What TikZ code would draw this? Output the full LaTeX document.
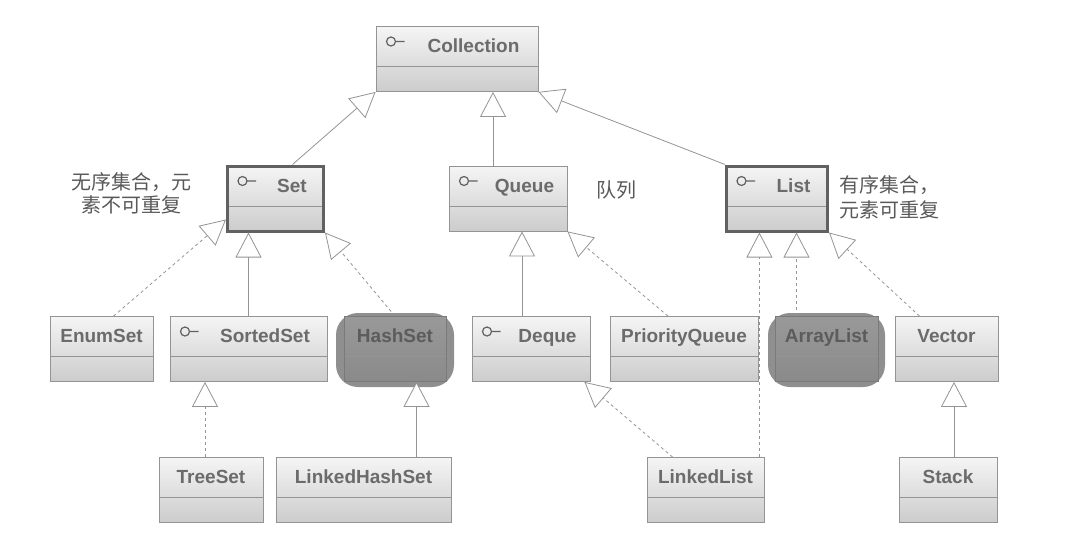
\documentclass[tikz,border=0pt]{standalone}
\usepackage{fontspec}
\newfontfamily\umlfont{Liberation Sans}
\newfontfamily\cjkfont{Noto Sans CJK SC}
\usetikzlibrary{arrows.meta}

\tikzset{
  divline/.style={draw=black!42, line width=0.8pt},
  cls/.style={draw=black!42, line width=0.8pt, top color=black!4, bottom color=black!20,
    inner sep=0pt, minimum height=65pt, text height=26pt, text depth=39pt,
    font=\umlfont\bfseries\fontsize{19pt}{22pt}\selectfont, text=black!58,
    path picture={\draw[divline]
      ([yshift=-40pt]path picture bounding box.north west) -- ([yshift=-40pt]path picture bounding box.north east);}},
  iface/.style={cls, execute at begin node={\hspace*{33pt}},
    path picture={\draw[divline]
      ([yshift=-40pt]path picture bounding box.north west) -- ([yshift=-40pt]path picture bounding box.north east);
      \draw[black!62, line width=1.2pt]
      ([xshift=15pt,yshift=-15pt]path picture bounding box.north west) circle[radius=4.5pt] ++(4.5pt,0) -- ++(9pt,0);}},
  keybox/.style={draw=black!62, line width=3pt},
  hot/.style={top color=black!40, bottom color=black!46, draw=black!52, text=black!64},
  blob/.style={fill=black!44, rounded corners=22pt, inner sep=0pt},
  note/.style={font=\cjkfont\fontsize{20pt}{23pt}\selectfont, text=black!65, inner sep=0pt},
  gen/.style={draw=black!42, line width=0.8pt, -{Triangle[length=25pt, width=26pt, fill=white]}},
  real/.style={gen, dash pattern=on 3pt off 3pt}
}

\begin{document}
\begin{tikzpicture}[x=1pt, y=-1pt]
    \useasboundingbox (0,0) rectangle (1084,536);

    % top
    \node[iface, minimum width=162pt] (coll) at (457,59) {Collection};

    % interfaces
    \node[iface, keybox, minimum width=96pt] (set) at (275.5,198.5) {Set};
    \node[iface, minimum width=118pt] (queue) at (508,198.5) {Queue};
    \node[iface, keybox, minimum width=101pt] (list) at (777,198.5) {List};

    \node[note, align=center] (setnote) at (131,193) {无序集合，元\\素不可重复};
    \node[note] (queuenote) at (616,190) {队列};
    \node[note, align=left, anchor=west, font=\cjkfont\fontsize{20pt}{25pt}\selectfont] (listnote) at (839,197) {有序集合，\\元素可重复};

    % second row
    \node[cls, minimum width=103pt] (enumset) at (101.5,349) {EnumSet};
    \node[iface, minimum width=157pt] (sortedset) at (248.5,349) {SortedSet};
    \node[blob, minimum width=118pt, minimum height=74pt] (hashblob) at (395,350) {};
    \node[cls, hot, minimum width=102pt] (hashset) at (395,349) {HashSet};
    \node[iface, minimum width=118pt] (deque) at (531,349) {Deque};
    \node[cls, minimum width=148pt] (pq) at (684,349) {PriorityQueue};
    \node[blob, minimum width=117pt, minimum height=74pt] (arrayblob) at (826.5,350) {};
    \node[cls, hot, minimum width=103pt] (arraylist) at (826.5,349) {ArrayList};
    \node[cls, minimum width=103pt] (vector) at (946.5,349) {Vector};

    % third row
    \node[cls, minimum width=104pt] (treeset) at (211,490) {TreeSet};
    \node[cls, minimum width=175pt] (lhs) at (363.5,490) {LinkedHashSet};
    \node[cls, minimum width=117pt] (linkedlist) at (705.5,490) {LinkedList};
    \node[cls, minimum width=98pt] (stack) at (948,490) {Stack};

    % inheritance
    \draw[gen] ([xshift=17pt]set.north) -- (coll.south west);
    \draw[gen] ([xshift=-15pt]queue.north) -- ([xshift=-15pt]queue.north |- coll.south);
    \draw[gen] (list.north west) -- (coll.south east);

    \draw[real] ([xshift=12pt]enumset.north) -- ([yshift=13pt]set.south west);
    \draw[gen] (sortedset.north) -- (sortedset.north |- set.south);
    \draw[real] (hashset.north) -- (set.south east);

    \draw[gen] ([xshift=-9pt]deque.north) -- ([xshift=-9pt]deque.north |- queue.south);
    \draw[real] ([xshift=-16pt]pq.north) -- (queue.south east);

    \draw[real] ([xshift=-5pt]linkedlist.north east) -- ([xshift=-5pt]linkedlist.north east |- list.south);
    \draw[real] ([xshift=-30pt]arraylist.north) -- ([xshift=-30pt]arraylist.north |- list.south);
    \draw[real] ([xshift=-27pt]vector.north) -- (list.south east);

    \draw[real] ([xshift=-6pt]treeset.north) -- ([xshift=-6pt]treeset.north |- sortedset.south);
    \draw[gen] ([xshift=53pt]lhs.north) -- ([xshift=53pt]lhs.north |- hashset.south);
    \draw[real] ([xshift=26pt]linkedlist.north west) -- ([xshift=-6pt]deque.south east);
    \draw[gen] ([xshift=6pt]stack.north) -- ([xshift=6pt]stack.north |- vector.south);
\end{tikzpicture}
\end{document}
